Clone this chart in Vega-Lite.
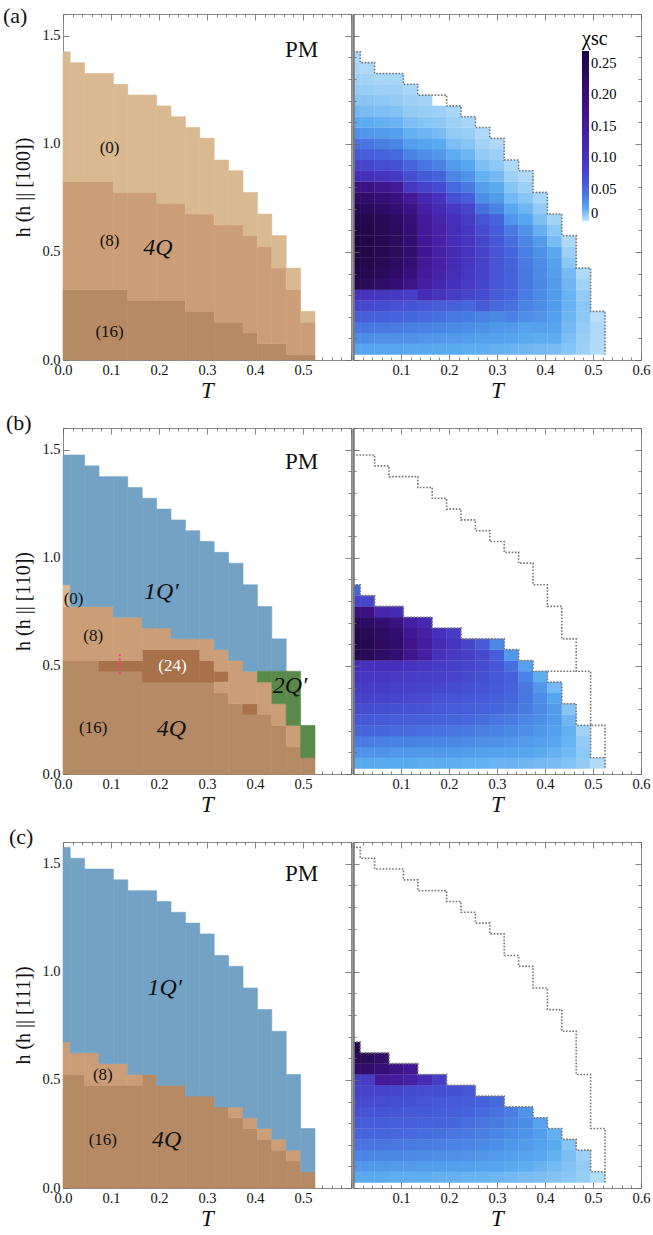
{
"$schema":"https://vega.github.io/schema/vega-lite/v6.json",
"background":"white",
"padding":{"left":2,"top":4,"right":4,"bottom":4},
"config":{"font":"Liberation Serif","view":{"stroke":"#8a8a8a","strokeWidth":1},
"axis":{"labelFont":"Liberation Serif","labelFontSize":14.5,"labelColor":"#111","labelPadding":9,"titleFont":"Liberation Serif","titleColor":"#111","titleFontWeight":"normal","tickColor":"#666","tickWidth":0.8,"grid":false,"zindex":1},
"legend":{"labelFont":"Liberation Serif","titleFont":"Liberation Serif"},
"title":{"font":"Liberation Serif","fontWeight":"normal","color":"#111"}},
"datasets":{
"ra":[
{"T0":0,"T1":0.135,"h0":0,"h1":0.325,"ph":"16"},{"T0":0.135,"T1":0.255,"h0":0,"h1":0.275,"ph":"16"},{"T0":0.255,"T1":0.315,"h0":0,"h1":0.225,"ph":"16"},{"T0":0.315,"T1":0.375,"h0":0,"h1":0.175,"ph":"16"},{"T0":0.375,"T1":0.405,"h0":0,"h1":0.125,"ph":"16"},{"T0":0.405,"T1":0.465,"h0":0,"h1":0.075,"ph":"16"},{"T0":0.465,"T1":0.525,"h0":0,"h1":0.025,"ph":"16"},
{"T0":0,"T1":0.105,"h0":0.325,"h1":0.825,"ph":"8"},{"T0":0.105,"T1":0.135,"h0":0.325,"h1":0.775,"ph":"8"},{"T0":0.135,"T1":0.195,"h0":0.275,"h1":0.775,"ph":"8"},{"T0":0.195,"T1":0.255,"h0":0.275,"h1":0.725,"ph":"8"},{"T0":0.255,"T1":0.315,"h0":0.225,"h1":0.675,"ph":"8"},{"T0":0.315,"T1":0.375,"h0":0.175,"h1":0.625,"ph":"8"},{"T0":0.375,"T1":0.405,"h0":0.125,"h1":0.575,"ph":"8"},{"T0":0.405,"T1":0.435,"h0":0.075,"h1":0.525,"ph":"8"},{"T0":0.435,"T1":0.465,"h0":0.075,"h1":0.425,"ph":"8"},{"T0":0.465,"T1":0.495,"h0":0.025,"h1":0.325,"ph":"8"},{"T0":0.495,"T1":0.525,"h0":0.025,"h1":0.175,"ph":"8"},
{"T0":0,"T1":0.015,"h0":0.825,"h1":1.425,"ph":"0"},{"T0":0.015,"T1":0.045,"h0":0.825,"h1":1.375,"ph":"0"},{"T0":0.045,"T1":0.105,"h0":0.825,"h1":1.325,"ph":"0"},{"T0":0.105,"T1":0.135,"h0":0.775,"h1":1.275,"ph":"0"},{"T0":0.135,"T1":0.195,"h0":0.775,"h1":1.225,"ph":"0"},{"T0":0.195,"T1":0.225,"h0":0.725,"h1":1.175,"ph":"0"},{"T0":0.225,"T1":0.255,"h0":0.725,"h1":1.125,"ph":"0"},{"T0":0.255,"T1":0.285,"h0":0.675,"h1":1.075,"ph":"0"},{"T0":0.285,"T1":0.315,"h0":0.675,"h1":1.025,"ph":"0"},{"T0":0.315,"T1":0.345,"h0":0.625,"h1":0.925,"ph":"0"},{"T0":0.345,"T1":0.375,"h0":0.625,"h1":0.875,"ph":"0"},{"T0":0.375,"T1":0.405,"h0":0.575,"h1":0.775,"ph":"0"},{"T0":0.405,"T1":0.435,"h0":0.525,"h1":0.675,"ph":"0"},{"T0":0.435,"T1":0.465,"h0":0.425,"h1":0.575,"ph":"0"},{"T0":0.465,"T1":0.495,"h0":0.325,"h1":0.425,"ph":"0"},{"T0":0.495,"T1":0.525,"h0":0.175,"h1":0.225,"ph":"0"}],
"rb":[
{"T0":0,"T1":0.075,"h0":0,"h1":0.525,"ph":"16"},{"T0":0.075,"T1":0.165,"h0":0,"h1":0.475,"ph":"16"},{"T0":0.165,"T1":0.315,"h0":0,"h1":0.425,"ph":"16"},{"T0":0.315,"T1":0.345,"h0":0,"h1":0.375,"ph":"16"},{"T0":0.345,"T1":0.375,"h0":0,"h1":0.325,"ph":"16"},{"T0":0.375,"T1":0.435,"h0":0,"h1":0.275,"ph":"16"},{"T0":0.435,"T1":0.465,"h0":0,"h1":0.225,"ph":"16"},{"T0":0.465,"T1":0.495,"h0":0,"h1":0.125,"ph":"16"},{"T0":0.495,"T1":0.525,"h0":0,"h1":0.075,"ph":"16"},
{"T0":0.075,"T1":0.165,"h0":0.475,"h1":0.525,"ph":"24"},{"T0":0.165,"T1":0.285,"h0":0.425,"h1":0.575,"ph":"24"},{"T0":0.285,"T1":0.315,"h0":0.425,"h1":0.525,"ph":"24"},{"T0":0.315,"T1":0.345,"h0":0.425,"h1":0.475,"ph":"24"},{"T0":0.375,"T1":0.405,"h0":0.275,"h1":0.325,"ph":"24"},
{"T0":0,"T1":0.105,"h0":0.525,"h1":0.775,"ph":"8"},{"T0":0.105,"T1":0.165,"h0":0.525,"h1":0.725,"ph":"8"},{"T0":0.165,"T1":0.225,"h0":0.575,"h1":0.675,"ph":"8"},{"T0":0.225,"T1":0.285,"h0":0.575,"h1":0.625,"ph":"8"},{"T0":0.285,"T1":0.315,"h0":0.525,"h1":0.625,"ph":"8"},{"T0":0.315,"T1":0.345,"h0":0.375,"h1":0.425,"ph":"8"},{"T0":0.315,"T1":0.345,"h0":0.475,"h1":0.575,"ph":"8"},{"T0":0.345,"T1":0.375,"h0":0.325,"h1":0.525,"ph":"8"},{"T0":0.375,"T1":0.405,"h0":0.325,"h1":0.475,"ph":"8"},{"T0":0.405,"T1":0.435,"h0":0.275,"h1":0.425,"ph":"8"},{"T0":0.435,"T1":0.465,"h0":0.225,"h1":0.325,"ph":"8"},{"T0":0.465,"T1":0.495,"h0":0.125,"h1":0.225,"ph":"8"},
{"T0":0,"T1":0.015,"h0":0.775,"h1":0.875,"ph":"0"},
{"T0":0,"T1":0.015,"h0":0.875,"h1":1.475,"ph":"1Q"},{"T0":0.015,"T1":0.045,"h0":0.775,"h1":1.475,"ph":"1Q"},{"T0":0.045,"T1":0.075,"h0":0.775,"h1":1.425,"ph":"1Q"},{"T0":0.075,"T1":0.105,"h0":0.775,"h1":1.375,"ph":"1Q"},{"T0":0.105,"T1":0.135,"h0":0.725,"h1":1.375,"ph":"1Q"},{"T0":0.135,"T1":0.165,"h0":0.725,"h1":1.325,"ph":"1Q"},{"T0":0.165,"T1":0.195,"h0":0.675,"h1":1.275,"ph":"1Q"},{"T0":0.195,"T1":0.225,"h0":0.675,"h1":1.225,"ph":"1Q"},{"T0":0.225,"T1":0.255,"h0":0.625,"h1":1.175,"ph":"1Q"},{"T0":0.255,"T1":0.285,"h0":0.625,"h1":1.125,"ph":"1Q"},{"T0":0.285,"T1":0.315,"h0":0.625,"h1":1.075,"ph":"1Q"},{"T0":0.315,"T1":0.345,"h0":0.575,"h1":1.025,"ph":"1Q"},{"T0":0.345,"T1":0.375,"h0":0.525,"h1":0.975,"ph":"1Q"},{"T0":0.375,"T1":0.405,"h0":0.475,"h1":0.875,"ph":"1Q"},{"T0":0.405,"T1":0.435,"h0":0.475,"h1":0.775,"ph":"1Q"},{"T0":0.435,"T1":0.465,"h0":0.475,"h1":0.625,"ph":"1Q"},
{"T0":0.405,"T1":0.435,"h0":0.425,"h1":0.475,"ph":"2Q"},{"T0":0.435,"T1":0.465,"h0":0.325,"h1":0.475,"ph":"2Q"},{"T0":0.465,"T1":0.495,"h0":0.225,"h1":0.475,"ph":"2Q"},{"T0":0.495,"T1":0.525,"h0":0.075,"h1":0.225,"ph":"2Q"}],
"rc":[
{"T0":0,"T1":0.045,"h0":0,"h1":0.525,"ph":"16"},{"T0":0.045,"T1":0.165,"h0":0,"h1":0.475,"ph":"16"},{"T0":0.165,"T1":0.195,"h0":0,"h1":0.525,"ph":"16"},{"T0":0.195,"T1":0.255,"h0":0,"h1":0.475,"ph":"16"},{"T0":0.255,"T1":0.315,"h0":0,"h1":0.425,"ph":"16"},{"T0":0.315,"T1":0.345,"h0":0,"h1":0.375,"ph":"16"},{"T0":0.345,"T1":0.375,"h0":0,"h1":0.325,"ph":"16"},{"T0":0.375,"T1":0.405,"h0":0,"h1":0.275,"ph":"16"},{"T0":0.405,"T1":0.435,"h0":0,"h1":0.225,"ph":"16"},{"T0":0.435,"T1":0.465,"h0":0,"h1":0.175,"ph":"16"},{"T0":0.465,"T1":0.495,"h0":0,"h1":0.125,"ph":"16"},{"T0":0.495,"T1":0.525,"h0":0,"h1":0.075,"ph":"16"},
{"T0":0,"T1":0.015,"h0":0.525,"h1":0.675,"ph":"8"},{"T0":0.015,"T1":0.045,"h0":0.525,"h1":0.625,"ph":"8"},{"T0":0.045,"T1":0.075,"h0":0.475,"h1":0.625,"ph":"8"},{"T0":0.075,"T1":0.135,"h0":0.475,"h1":0.575,"ph":"8"},{"T0":0.135,"T1":0.165,"h0":0.475,"h1":0.525,"ph":"8"},{"T0":0.345,"T1":0.375,"h0":0.325,"h1":0.375,"ph":"8"},{"T0":0.375,"T1":0.405,"h0":0.275,"h1":0.325,"ph":"8"},{"T0":0.405,"T1":0.435,"h0":0.225,"h1":0.275,"ph":"8"},{"T0":0.435,"T1":0.465,"h0":0.175,"h1":0.225,"ph":"8"},{"T0":0.465,"T1":0.495,"h0":0.125,"h1":0.175,"ph":"8"},
{"T0":0,"T1":0.015,"h0":0.675,"h1":1.575,"ph":"1Q"},{"T0":0.015,"T1":0.045,"h0":0.625,"h1":1.525,"ph":"1Q"},{"T0":0.045,"T1":0.075,"h0":0.625,"h1":1.475,"ph":"1Q"},{"T0":0.075,"T1":0.105,"h0":0.575,"h1":1.475,"ph":"1Q"},{"T0":0.105,"T1":0.135,"h0":0.575,"h1":1.425,"ph":"1Q"},{"T0":0.135,"T1":0.165,"h0":0.525,"h1":1.375,"ph":"1Q"},{"T0":0.165,"T1":0.195,"h0":0.525,"h1":1.375,"ph":"1Q"},{"T0":0.195,"T1":0.225,"h0":0.475,"h1":1.325,"ph":"1Q"},{"T0":0.225,"T1":0.255,"h0":0.475,"h1":1.275,"ph":"1Q"},{"T0":0.255,"T1":0.285,"h0":0.425,"h1":1.225,"ph":"1Q"},{"T0":0.285,"T1":0.315,"h0":0.425,"h1":1.175,"ph":"1Q"},{"T0":0.315,"T1":0.345,"h0":0.375,"h1":1.075,"ph":"1Q"},{"T0":0.345,"T1":0.375,"h0":0.375,"h1":1.025,"ph":"1Q"},{"T0":0.375,"T1":0.405,"h0":0.325,"h1":0.925,"ph":"1Q"},{"T0":0.405,"T1":0.435,"h0":0.275,"h1":0.825,"ph":"1Q"},{"T0":0.435,"T1":0.465,"h0":0.225,"h1":0.725,"ph":"1Q"},{"T0":0.465,"T1":0.495,"h0":0.175,"h1":0.525,"ph":"1Q"},{"T0":0.495,"T1":0.525,"h0":0.075,"h1":0.275,"ph":"1Q"}],
"ta":[{"T":0.497,"h":1.435,"lab":"PM","k":"pm"},{"T":0.097,"h":0.98,"lab":"(0)","k":"n"},{"T":0.097,"h":0.552,"lab":"(8)","k":"n"},{"T":0.198,"h":0.517,"lab":"4Q","k":"ph"},{"T":0.097,"h":0.131,"lab":"(16)","k":"n"}],
"tb":[{"T":0.497,"h":1.444,"lab":"PM","k":"pm"},{"T":0.022,"h":0.81,"lab":"(0)","k":"n"},{"T":0.205,"h":0.84,"lab":"1Q′","k":"ph"},{"T":0.063,"h":0.64,"lab":"(8)","k":"n"},{"T":0.228,"h":0.5,"lab":"(24)","k":"n"},{"T":0.473,"h":0.407,"lab":"2Q′","k":"ph"},{"T":0.063,"h":0.214,"lab":"(16)","k":"n"},{"T":0.226,"h":0.21,"lab":"4Q","k":"ph"}],
"tc":[{"T":0.497,"h":1.45,"lab":"PM","k":"pm"},{"T":0.212,"h":0.926,"lab":"1Q′","k":"ph"},{"T":0.083,"h":0.524,"lab":"(8)","k":"n"},{"T":0.083,"h":0.224,"lab":"(16)","k":"n"},{"T":0.216,"h":0.224,"lab":"4Q","k":"ph"}],
"pk":[{"T":0.118,"h0":0.462,"h1":0.556}],
"la":[{"s":"o","T":0,"h":1.425},{"s":"o","T":0.015,"h":1.375},{"s":"o","T":0.045,"h":1.325},{"s":"o","T":0.105,"h":1.275},{"s":"o","T":0.135,"h":1.225},{"s":"o","T":0.195,"h":1.175},{"s":"o","T":0.225,"h":1.125},{"s":"o","T":0.255,"h":1.075},{"s":"o","T":0.285,"h":1.025},{"s":"o","T":0.315,"h":0.925},{"s":"o","T":0.345,"h":0.875},{"s":"o","T":0.375,"h":0.775},{"s":"o","T":0.405,"h":0.675},{"s":"o","T":0.435,"h":0.575},{"s":"o","T":0.465,"h":0.425},{"s":"o","T":0.495,"h":0.225},{"s":"o","T":0.525,"h":0.025}],
"lb":[{"s":"o","T":0,"h":1.475},{"s":"o","T":0.045,"h":1.425},{"s":"o","T":0.075,"h":1.375},{"s":"o","T":0.135,"h":1.325},{"s":"o","T":0.165,"h":1.275},{"s":"o","T":0.195,"h":1.225},{"s":"o","T":0.225,"h":1.175},{"s":"o","T":0.255,"h":1.125},{"s":"o","T":0.285,"h":1.075},{"s":"o","T":0.315,"h":1.025},{"s":"o","T":0.345,"h":0.975},{"s":"o","T":0.375,"h":0.875},{"s":"o","T":0.405,"h":0.775},{"s":"o","T":0.435,"h":0.625},{"s":"o","T":0.465,"h":0.475},{"s":"o","T":0.495,"h":0.225},{"s":"o","T":0.525,"h":0.025},
{"s":"i","T":0,"h":0.875},{"s":"i","T":0.015,"h":0.825},{"s":"i","T":0.045,"h":0.775},{"s":"i","T":0.105,"h":0.725},{"s":"i","T":0.165,"h":0.675},{"s":"i","T":0.225,"h":0.625},{"s":"i","T":0.315,"h":0.575},{"s":"i","T":0.345,"h":0.525},{"s":"i","T":0.375,"h":0.475},{"s":"i","T":0.405,"h":0.425},{"s":"i","T":0.435,"h":0.325},{"s":"i","T":0.465,"h":0.225},{"s":"i","T":0.495,"h":0.075},{"s":"i","T":0.525,"h":0.075},
{"s":"x","T":0.405,"h":0.475},{"s":"x","T":0.465,"h":0.475}],
"lc":[{"s":"o","T":0,"h":1.575},{"s":"o","T":0.015,"h":1.525},{"s":"o","T":0.045,"h":1.475},{"s":"o","T":0.105,"h":1.425},{"s":"o","T":0.135,"h":1.375},{"s":"o","T":0.195,"h":1.325},{"s":"o","T":0.225,"h":1.275},{"s":"o","T":0.255,"h":1.225},{"s":"o","T":0.285,"h":1.175},{"s":"o","T":0.315,"h":1.075},{"s":"o","T":0.345,"h":1.025},{"s":"o","T":0.375,"h":0.925},{"s":"o","T":0.405,"h":0.825},{"s":"o","T":0.435,"h":0.725},{"s":"o","T":0.465,"h":0.525},{"s":"o","T":0.495,"h":0.275},{"s":"o","T":0.525,"h":0.025},
{"s":"i","T":0,"h":0.675},{"s":"i","T":0.015,"h":0.625},{"s":"i","T":0.075,"h":0.575},{"s":"i","T":0.135,"h":0.525},{"s":"i","T":0.195,"h":0.475},{"s":"i","T":0.255,"h":0.425},{"s":"i","T":0.315,"h":0.375},{"s":"i","T":0.375,"h":0.325},{"s":"i","T":0.405,"h":0.275},{"s":"i","T":0.435,"h":0.225},{"s":"i","T":0.465,"h":0.175},{"s":"i","T":0.495,"h":0.075},{"s":"i","T":0.525,"h":0.075}],
"ha":[
{"T":0,"h":0.05,"v":0.022},{"T":0,"h":0.1,"v":0.032},{"T":0,"h":0.15,"v":0.042},{"T":0,"h":0.2,"v":0.055},{"T":0,"h":0.25,"v":0.075},{"T":0,"h":0.3,"v":0.1},{"T":0,"h":0.35,"v":0.24},{"T":0,"h":0.4,"v":0.252},{"T":0,"h":0.45,"v":0.26},{"T":0,"h":0.5,"v":0.265},{"T":0,"h":0.55,"v":0.265},{"T":0,"h":0.6,"v":0.262},{"T":0,"h":0.65,"v":0.255},{"T":0,"h":0.7,"v":0.245},{"T":0,"h":0.75,"v":0.222},{"T":0,"h":0.8,"v":0.19},{"T":0,"h":0.85,"v":0.11},{"T":0,"h":0.9,"v":0.08},{"T":0,"h":0.95,"v":0.058},{"T":0,"h":1,"v":0.044},{"T":0,"h":1.05,"v":0.03},{"T":0,"h":1.1,"v":0.02},{"T":0,"h":1.15,"v":0.015},{"T":0,"h":1.2,"v":0.011},{"T":0,"h":1.25,"v":0.009},{"T":0,"h":1.3,"v":0.007},{"T":0,"h":1.35,"v":0.005},{"T":0,"h":1.4,"v":0.004},
{"T":0.03,"h":0.05,"v":0.022},{"T":0.03,"h":0.1,"v":0.032},{"T":0.03,"h":0.15,"v":0.042},{"T":0.03,"h":0.2,"v":0.054},{"T":0.03,"h":0.25,"v":0.073},{"T":0.03,"h":0.3,"v":0.098},{"T":0.03,"h":0.35,"v":0.235},{"T":0.03,"h":0.4,"v":0.248},{"T":0.03,"h":0.45,"v":0.256},{"T":0.03,"h":0.5,"v":0.26},{"T":0.03,"h":0.55,"v":0.26},{"T":0.03,"h":0.6,"v":0.258},{"T":0.03,"h":0.65,"v":0.25},{"T":0.03,"h":0.7,"v":0.238},{"T":0.03,"h":0.75,"v":0.215},{"T":0.03,"h":0.8,"v":0.182},{"T":0.03,"h":0.85,"v":0.105},{"T":0.03,"h":0.9,"v":0.076},{"T":0.03,"h":0.95,"v":0.055},{"T":0.03,"h":1,"v":0.042},{"T":0.03,"h":1.05,"v":0.029},{"T":0.03,"h":1.1,"v":0.019},{"T":0.03,"h":1.15,"v":0.014},{"T":0.03,"h":1.2,"v":0.011},{"T":0.03,"h":1.25,"v":0.008},{"T":0.03,"h":1.3,"v":0.006},{"T":0.03,"h":1.35,"v":0.004},
{"T":0.06,"h":0.05,"v":0.022},{"T":0.06,"h":0.1,"v":0.031},{"T":0.06,"h":0.15,"v":0.041},{"T":0.06,"h":0.2,"v":0.053},{"T":0.06,"h":0.25,"v":0.07},{"T":0.06,"h":0.3,"v":0.094},{"T":0.06,"h":0.35,"v":0.222},{"T":0.06,"h":0.4,"v":0.236},{"T":0.06,"h":0.45,"v":0.245},{"T":0.06,"h":0.5,"v":0.25},{"T":0.06,"h":0.55,"v":0.25},{"T":0.06,"h":0.6,"v":0.247},{"T":0.06,"h":0.65,"v":0.24},{"T":0.06,"h":0.7,"v":0.226},{"T":0.06,"h":0.75,"v":0.203},{"T":0.06,"h":0.8,"v":0.17},{"T":0.06,"h":0.85,"v":0.098},{"T":0.06,"h":0.9,"v":0.07},{"T":0.06,"h":0.95,"v":0.051},{"T":0.06,"h":1,"v":0.039},{"T":0.06,"h":1.05,"v":0.027},{"T":0.06,"h":1.1,"v":0.018},{"T":0.06,"h":1.15,"v":0.013},{"T":0.06,"h":1.2,"v":0.01},{"T":0.06,"h":1.25,"v":0.007},{"T":0.06,"h":1.3,"v":0.005},
{"T":0.09,"h":0.05,"v":0.022},{"T":0.09,"h":0.1,"v":0.031},{"T":0.09,"h":0.15,"v":0.04},{"T":0.09,"h":0.2,"v":0.051},{"T":0.09,"h":0.25,"v":0.067},{"T":0.09,"h":0.3,"v":0.09},{"T":0.09,"h":0.35,"v":0.205},{"T":0.09,"h":0.4,"v":0.22},{"T":0.09,"h":0.45,"v":0.23},{"T":0.09,"h":0.5,"v":0.235},{"T":0.09,"h":0.55,"v":0.235},{"T":0.09,"h":0.6,"v":0.232},{"T":0.09,"h":0.65,"v":0.224},{"T":0.09,"h":0.7,"v":0.21},{"T":0.09,"h":0.75,"v":0.188},{"T":0.09,"h":0.8,"v":0.155},{"T":0.09,"h":0.85,"v":0.09},{"T":0.09,"h":0.9,"v":0.065},{"T":0.09,"h":0.95,"v":0.048},{"T":0.09,"h":1,"v":0.036},{"T":0.09,"h":1.05,"v":0.025},{"T":0.09,"h":1.1,"v":0.017},{"T":0.09,"h":1.15,"v":0.012},{"T":0.09,"h":1.2,"v":0.009},{"T":0.09,"h":1.25,"v":0.007},{"T":0.09,"h":1.3,"v":0.005},
{"T":0.12,"h":0.05,"v":0.021},{"T":0.12,"h":0.1,"v":0.03},{"T":0.12,"h":0.15,"v":0.039},{"T":0.12,"h":0.2,"v":0.049},{"T":0.12,"h":0.25,"v":0.064},{"T":0.12,"h":0.3,"v":0.085},{"T":0.12,"h":0.35,"v":0.18},{"T":0.12,"h":0.4,"v":0.195},{"T":0.12,"h":0.45,"v":0.205},{"T":0.12,"h":0.5,"v":0.21},{"T":0.12,"h":0.55,"v":0.21},{"T":0.12,"h":0.6,"v":0.206},{"T":0.12,"h":0.65,"v":0.198},{"T":0.12,"h":0.7,"v":0.182},{"T":0.12,"h":0.75,"v":0.155},{"T":0.12,"h":0.8,"v":0.095},{"T":0.12,"h":0.85,"v":0.068},{"T":0.12,"h":0.9,"v":0.05},{"T":0.12,"h":0.95,"v":0.037},{"T":0.12,"h":1,"v":0.026},{"T":0.12,"h":1.05,"v":0.018},{"T":0.12,"h":1.1,"v":0.013},{"T":0.12,"h":1.15,"v":0.009},{"T":0.12,"h":1.2,"v":0.007},{"T":0.12,"h":1.25,"v":0.005},
{"T":0.15,"h":0.05,"v":0.021},{"T":0.15,"h":0.1,"v":0.029},{"T":0.15,"h":0.15,"v":0.037},{"T":0.15,"h":0.2,"v":0.047},{"T":0.15,"h":0.25,"v":0.06},{"T":0.15,"h":0.3,"v":0.11},{"T":0.15,"h":0.35,"v":0.14},{"T":0.15,"h":0.4,"v":0.152},{"T":0.15,"h":0.45,"v":0.158},{"T":0.15,"h":0.5,"v":0.16},{"T":0.15,"h":0.55,"v":0.16},{"T":0.15,"h":0.6,"v":0.157},{"T":0.15,"h":0.65,"v":0.15},{"T":0.15,"h":0.7,"v":0.138},{"T":0.15,"h":0.75,"v":0.118},{"T":0.15,"h":0.8,"v":0.08},{"T":0.15,"h":0.85,"v":0.058},{"T":0.15,"h":0.9,"v":0.043},{"T":0.15,"h":0.95,"v":0.032},{"T":0.15,"h":1,"v":0.023},{"T":0.15,"h":1.05,"v":0.016},{"T":0.15,"h":1.1,"v":0.011},{"T":0.15,"h":1.15,"v":0.008},{"T":0.15,"h":1.2,"v":0.006},
{"T":0.18,"h":0.05,"v":0.02},{"T":0.18,"h":0.1,"v":0.028},{"T":0.18,"h":0.15,"v":0.036},{"T":0.18,"h":0.2,"v":0.045},{"T":0.18,"h":0.25,"v":0.057},{"T":0.18,"h":0.3,"v":0.098},{"T":0.18,"h":0.35,"v":0.12},{"T":0.18,"h":0.4,"v":0.13},{"T":0.18,"h":0.45,"v":0.134},{"T":0.18,"h":0.5,"v":0.136},{"T":0.18,"h":0.55,"v":0.136},{"T":0.18,"h":0.6,"v":0.133},{"T":0.18,"h":0.65,"v":0.127},{"T":0.18,"h":0.7,"v":0.117},{"T":0.18,"h":0.75,"v":0.1},{"T":0.18,"h":0.8,"v":0.07},{"T":0.18,"h":0.85,"v":0.051},{"T":0.18,"h":0.9,"v":0.038},{"T":0.18,"h":0.95,"v":0.028},{"T":0.18,"h":1,"v":0.02},{"T":0.18,"h":1.05,"v":0.014},{"T":0.18,"h":1.1,"v":0.01},{"T":0.18,"h":1.15,"v":0.007},
{"T":0.21,"h":0.05,"v":0.02},{"T":0.21,"h":0.1,"v":0.027},{"T":0.21,"h":0.15,"v":0.034},{"T":0.21,"h":0.2,"v":0.042},{"T":0.21,"h":0.25,"v":0.053},{"T":0.21,"h":0.3,"v":0.088},{"T":0.21,"h":0.35,"v":0.103},{"T":0.21,"h":0.4,"v":0.111},{"T":0.21,"h":0.45,"v":0.115},{"T":0.21,"h":0.5,"v":0.116},{"T":0.21,"h":0.55,"v":0.115},{"T":0.21,"h":0.6,"v":0.111},{"T":0.21,"h":0.65,"v":0.104},{"T":0.21,"h":0.7,"v":0.092},{"T":0.21,"h":0.75,"v":0.066},{"T":0.21,"h":0.8,"v":0.048},{"T":0.21,"h":0.85,"v":0.036},{"T":0.21,"h":0.9,"v":0.027},{"T":0.21,"h":0.95,"v":0.019},{"T":0.21,"h":1,"v":0.013},{"T":0.21,"h":1.05,"v":0.009},{"T":0.21,"h":1.1,"v":0.007},{"T":0.21,"h":1.15,"v":0.005},
{"T":0.24,"h":0.05,"v":0.019},{"T":0.24,"h":0.1,"v":0.026},{"T":0.24,"h":0.15,"v":0.032},{"T":0.24,"h":0.2,"v":0.04},{"T":0.24,"h":0.25,"v":0.049},{"T":0.24,"h":0.3,"v":0.075},{"T":0.24,"h":0.35,"v":0.087},{"T":0.24,"h":0.4,"v":0.093},{"T":0.24,"h":0.45,"v":0.096},{"T":0.24,"h":0.5,"v":0.097},{"T":0.24,"h":0.55,"v":0.096},{"T":0.24,"h":0.6,"v":0.092},{"T":0.24,"h":0.65,"v":0.086},{"T":0.24,"h":0.7,"v":0.076},{"T":0.24,"h":0.75,"v":0.055},{"T":0.24,"h":0.8,"v":0.04},{"T":0.24,"h":0.85,"v":0.03},{"T":0.24,"h":0.9,"v":0.022},{"T":0.24,"h":0.95,"v":0.016},{"T":0.24,"h":1,"v":0.011},{"T":0.24,"h":1.05,"v":0.008},{"T":0.24,"h":1.1,"v":0.005},
{"T":0.27,"h":0.05,"v":0.019},{"T":0.27,"h":0.1,"v":0.025},{"T":0.27,"h":0.15,"v":0.031},{"T":0.27,"h":0.2,"v":0.038},{"T":0.27,"h":0.25,"v":0.058},{"T":0.27,"h":0.3,"v":0.07},{"T":0.27,"h":0.35,"v":0.076},{"T":0.27,"h":0.4,"v":0.079},{"T":0.27,"h":0.45,"v":0.08},{"T":0.27,"h":0.5,"v":0.079},{"T":0.27,"h":0.55,"v":0.076},{"T":0.27,"h":0.6,"v":0.071},{"T":0.27,"h":0.65,"v":0.063},{"T":0.27,"h":0.7,"v":0.045},{"T":0.27,"h":0.75,"v":0.033},{"T":0.27,"h":0.8,"v":0.025},{"T":0.27,"h":0.85,"v":0.018},{"T":0.27,"h":0.9,"v":0.013},{"T":0.27,"h":0.95,"v":0.009},{"T":0.27,"h":1,"v":0.006},{"T":0.27,"h":1.05,"v":0.004},
{"T":0.3,"h":0.05,"v":0.018},{"T":0.3,"h":0.1,"v":0.024},{"T":0.3,"h":0.15,"v":0.029},{"T":0.3,"h":0.2,"v":0.035},{"T":0.3,"h":0.25,"v":0.048},{"T":0.3,"h":0.3,"v":0.056},{"T":0.3,"h":0.35,"v":0.061},{"T":0.3,"h":0.4,"v":0.063},{"T":0.3,"h":0.45,"v":0.064},{"T":0.3,"h":0.5,"v":0.063},{"T":0.3,"h":0.55,"v":0.061},{"T":0.3,"h":0.6,"v":0.057},{"T":0.3,"h":0.65,"v":0.051},{"T":0.3,"h":0.7,"v":0.037},{"T":0.3,"h":0.75,"v":0.027},{"T":0.3,"h":0.8,"v":0.02},{"T":0.3,"h":0.85,"v":0.015},{"T":0.3,"h":0.9,"v":0.01},{"T":0.3,"h":0.95,"v":0.007},{"T":0.3,"h":1,"v":0.004},
{"T":0.33,"h":0.05,"v":0.017},{"T":0.33,"h":0.1,"v":0.022},{"T":0.33,"h":0.15,"v":0.027},{"T":0.33,"h":0.2,"v":0.038},{"T":0.33,"h":0.25,"v":0.045},{"T":0.33,"h":0.3,"v":0.049},{"T":0.33,"h":0.35,"v":0.051},{"T":0.33,"h":0.4,"v":0.052},{"T":0.33,"h":0.45,"v":0.051},{"T":0.33,"h":0.5,"v":0.049},{"T":0.33,"h":0.55,"v":0.046},{"T":0.33,"h":0.6,"v":0.041},{"T":0.33,"h":0.65,"v":0.029},{"T":0.33,"h":0.7,"v":0.021},{"T":0.33,"h":0.75,"v":0.015},{"T":0.33,"h":0.8,"v":0.011},{"T":0.33,"h":0.85,"v":0.007},{"T":0.33,"h":0.9,"v":0.004},
{"T":0.36,"h":0.05,"v":0.016},{"T":0.36,"h":0.1,"v":0.02},{"T":0.36,"h":0.15,"v":0.024},{"T":0.36,"h":0.2,"v":0.032},{"T":0.36,"h":0.25,"v":0.037},{"T":0.36,"h":0.3,"v":0.04},{"T":0.36,"h":0.35,"v":0.042},{"T":0.36,"h":0.4,"v":0.042},{"T":0.36,"h":0.45,"v":0.041},{"T":0.36,"h":0.5,"v":0.039},{"T":0.36,"h":0.55,"v":0.036},{"T":0.36,"h":0.6,"v":0.03},{"T":0.36,"h":0.65,"v":0.022},{"T":0.36,"h":0.7,"v":0.016},{"T":0.36,"h":0.75,"v":0.011},{"T":0.36,"h":0.8,"v":0.007},{"T":0.36,"h":0.85,"v":0.004},
{"T":0.39,"h":0.05,"v":0.015},{"T":0.39,"h":0.1,"v":0.019},{"T":0.39,"h":0.15,"v":0.025},{"T":0.39,"h":0.2,"v":0.03},{"T":0.39,"h":0.25,"v":0.033},{"T":0.39,"h":0.3,"v":0.034},{"T":0.39,"h":0.35,"v":0.035},{"T":0.39,"h":0.4,"v":0.034},{"T":0.39,"h":0.45,"v":0.033},{"T":0.39,"h":0.5,"v":0.031},{"T":0.39,"h":0.55,"v":0.027},{"T":0.39,"h":0.6,"v":0.018},{"T":0.39,"h":0.65,"v":0.013},{"T":0.39,"h":0.7,"v":0.009},{"T":0.39,"h":0.75,"v":0.005},
{"T":0.42,"h":0.05,"v":0.014},{"T":0.42,"h":0.1,"v":0.019},{"T":0.42,"h":0.15,"v":0.023},{"T":0.42,"h":0.2,"v":0.025},{"T":0.42,"h":0.25,"v":0.027},{"T":0.42,"h":0.3,"v":0.027},{"T":0.42,"h":0.35,"v":0.027},{"T":0.42,"h":0.4,"v":0.026},{"T":0.42,"h":0.45,"v":0.024},{"T":0.42,"h":0.5,"v":0.021},{"T":0.42,"h":0.55,"v":0.014},{"T":0.42,"h":0.6,"v":0.01},{"T":0.42,"h":0.65,"v":0.006},
{"T":0.45,"h":0.05,"v":0.011},{"T":0.45,"h":0.1,"v":0.013},{"T":0.45,"h":0.15,"v":0.015},{"T":0.45,"h":0.2,"v":0.016},{"T":0.45,"h":0.25,"v":0.017},{"T":0.45,"h":0.3,"v":0.017},{"T":0.45,"h":0.35,"v":0.016},{"T":0.45,"h":0.4,"v":0.015},{"T":0.45,"h":0.45,"v":0.01},{"T":0.45,"h":0.5,"v":0.007},{"T":0.45,"h":0.55,"v":0.004},
{"T":0.48,"h":0.05,"v":0.007},{"T":0.48,"h":0.1,"v":0.008},{"T":0.48,"h":0.15,"v":0.009},{"T":0.48,"h":0.2,"v":0.01},{"T":0.48,"h":0.25,"v":0.01},{"T":0.48,"h":0.3,"v":0.009},{"T":0.48,"h":0.35,"v":0.006},{"T":0.48,"h":0.4,"v":0.004},
{"T":0.51,"h":0.05,"v":0.003},{"T":0.51,"h":0.1,"v":0.004},{"T":0.51,"h":0.15,"v":0.004},{"T":0.51,"h":0.2,"v":0.002}],
"hb":[
{"T":0,"h":0.05,"v":0.02},{"T":0,"h":0.1,"v":0.03},{"T":0,"h":0.15,"v":0.04},{"T":0,"h":0.2,"v":0.05},{"T":0,"h":0.25,"v":0.06},{"T":0,"h":0.3,"v":0.07},{"T":0,"h":0.35,"v":0.08},{"T":0,"h":0.4,"v":0.088},{"T":0,"h":0.45,"v":0.096},{"T":0,"h":0.5,"v":0.108},{"T":0,"h":0.55,"v":0.25},{"T":0,"h":0.6,"v":0.255},{"T":0,"h":0.65,"v":0.25},{"T":0,"h":0.7,"v":0.235},{"T":0,"h":0.75,"v":0.195},{"T":0,"h":0.8,"v":0.08},{"T":0,"h":0.85,"v":0.05},
{"T":0.03,"h":0.05,"v":0.02},{"T":0.03,"h":0.1,"v":0.03},{"T":0.03,"h":0.15,"v":0.04},{"T":0.03,"h":0.2,"v":0.05},{"T":0.03,"h":0.25,"v":0.06},{"T":0.03,"h":0.3,"v":0.069},{"T":0.03,"h":0.35,"v":0.079},{"T":0.03,"h":0.4,"v":0.087},{"T":0.03,"h":0.45,"v":0.095},{"T":0.03,"h":0.5,"v":0.106},{"T":0.03,"h":0.55,"v":0.245},{"T":0.03,"h":0.6,"v":0.25},{"T":0.03,"h":0.65,"v":0.245},{"T":0.03,"h":0.7,"v":0.228},{"T":0.03,"h":0.75,"v":0.185},{"T":0.03,"h":0.8,"v":0.075},
{"T":0.06,"h":0.05,"v":0.02},{"T":0.06,"h":0.1,"v":0.03},{"T":0.06,"h":0.15,"v":0.039},{"T":0.06,"h":0.2,"v":0.049},{"T":0.06,"h":0.25,"v":0.059},{"T":0.06,"h":0.3,"v":0.068},{"T":0.06,"h":0.35,"v":0.078},{"T":0.06,"h":0.4,"v":0.086},{"T":0.06,"h":0.45,"v":0.094},{"T":0.06,"h":0.5,"v":0.104},{"T":0.06,"h":0.55,"v":0.225},{"T":0.06,"h":0.6,"v":0.232},{"T":0.06,"h":0.65,"v":0.225},{"T":0.06,"h":0.7,"v":0.205},{"T":0.06,"h":0.75,"v":0.125},
{"T":0.09,"h":0.05,"v":0.02},{"T":0.09,"h":0.1,"v":0.029},{"T":0.09,"h":0.15,"v":0.038},{"T":0.09,"h":0.2,"v":0.048},{"T":0.09,"h":0.25,"v":0.057},{"T":0.09,"h":0.3,"v":0.066},{"T":0.09,"h":0.35,"v":0.075},{"T":0.09,"h":0.4,"v":0.083},{"T":0.09,"h":0.45,"v":0.09},{"T":0.09,"h":0.5,"v":0.105},{"T":0.09,"h":0.55,"v":0.21},{"T":0.09,"h":0.6,"v":0.218},{"T":0.09,"h":0.65,"v":0.21},{"T":0.09,"h":0.7,"v":0.19},{"T":0.09,"h":0.75,"v":0.115},
{"T":0.12,"h":0.05,"v":0.02},{"T":0.12,"h":0.1,"v":0.029},{"T":0.12,"h":0.15,"v":0.038},{"T":0.12,"h":0.2,"v":0.047},{"T":0.12,"h":0.25,"v":0.056},{"T":0.12,"h":0.3,"v":0.065},{"T":0.12,"h":0.35,"v":0.073},{"T":0.12,"h":0.4,"v":0.081},{"T":0.12,"h":0.45,"v":0.088},{"T":0.12,"h":0.5,"v":0.1},{"T":0.12,"h":0.55,"v":0.17},{"T":0.12,"h":0.6,"v":0.175},{"T":0.12,"h":0.65,"v":0.165},{"T":0.12,"h":0.7,"v":0.14},
{"T":0.15,"h":0.05,"v":0.019},{"T":0.15,"h":0.1,"v":0.028},{"T":0.15,"h":0.15,"v":0.037},{"T":0.15,"h":0.2,"v":0.046},{"T":0.15,"h":0.25,"v":0.055},{"T":0.15,"h":0.3,"v":0.063},{"T":0.15,"h":0.35,"v":0.071},{"T":0.15,"h":0.4,"v":0.078},{"T":0.15,"h":0.45,"v":0.085},{"T":0.15,"h":0.5,"v":0.095},{"T":0.15,"h":0.55,"v":0.14},{"T":0.15,"h":0.6,"v":0.145},{"T":0.15,"h":0.65,"v":0.138},{"T":0.15,"h":0.7,"v":0.118},
{"T":0.18,"h":0.05,"v":0.019},{"T":0.18,"h":0.1,"v":0.028},{"T":0.18,"h":0.15,"v":0.036},{"T":0.18,"h":0.2,"v":0.044},{"T":0.18,"h":0.25,"v":0.052},{"T":0.18,"h":0.3,"v":0.06},{"T":0.18,"h":0.35,"v":0.067},{"T":0.18,"h":0.4,"v":0.074},{"T":0.18,"h":0.45,"v":0.082},{"T":0.18,"h":0.5,"v":0.088},{"T":0.18,"h":0.55,"v":0.105},{"T":0.18,"h":0.6,"v":0.115},{"T":0.18,"h":0.65,"v":0.105},
{"T":0.21,"h":0.05,"v":0.019},{"T":0.21,"h":0.1,"v":0.027},{"T":0.21,"h":0.15,"v":0.035},{"T":0.21,"h":0.2,"v":0.043},{"T":0.21,"h":0.25,"v":0.05},{"T":0.21,"h":0.3,"v":0.057},{"T":0.21,"h":0.35,"v":0.064},{"T":0.21,"h":0.4,"v":0.07},{"T":0.21,"h":0.45,"v":0.077},{"T":0.21,"h":0.5,"v":0.082},{"T":0.21,"h":0.55,"v":0.092},{"T":0.21,"h":0.6,"v":0.098},{"T":0.21,"h":0.65,"v":0.088},
{"T":0.24,"h":0.05,"v":0.018},{"T":0.24,"h":0.1,"v":0.026},{"T":0.24,"h":0.15,"v":0.034},{"T":0.24,"h":0.2,"v":0.041},{"T":0.24,"h":0.25,"v":0.048},{"T":0.24,"h":0.3,"v":0.055},{"T":0.24,"h":0.35,"v":0.061},{"T":0.24,"h":0.4,"v":0.067},{"T":0.24,"h":0.45,"v":0.072},{"T":0.24,"h":0.5,"v":0.076},{"T":0.24,"h":0.55,"v":0.082},{"T":0.24,"h":0.6,"v":0.075},
{"T":0.27,"h":0.05,"v":0.018},{"T":0.27,"h":0.1,"v":0.025},{"T":0.27,"h":0.15,"v":0.032},{"T":0.27,"h":0.2,"v":0.039},{"T":0.27,"h":0.25,"v":0.046},{"T":0.27,"h":0.3,"v":0.052},{"T":0.27,"h":0.35,"v":0.058},{"T":0.27,"h":0.4,"v":0.063},{"T":0.27,"h":0.45,"v":0.067},{"T":0.27,"h":0.5,"v":0.07},{"T":0.27,"h":0.55,"v":0.072},{"T":0.27,"h":0.6,"v":0.058},
{"T":0.3,"h":0.05,"v":0.017},{"T":0.3,"h":0.1,"v":0.024},{"T":0.3,"h":0.15,"v":0.031},{"T":0.3,"h":0.2,"v":0.037},{"T":0.3,"h":0.25,"v":0.043},{"T":0.3,"h":0.3,"v":0.049},{"T":0.3,"h":0.35,"v":0.054},{"T":0.3,"h":0.4,"v":0.058},{"T":0.3,"h":0.45,"v":0.061},{"T":0.3,"h":0.5,"v":0.062},{"T":0.3,"h":0.55,"v":0.055},{"T":0.3,"h":0.6,"v":0.035},
{"T":0.33,"h":0.05,"v":0.017},{"T":0.33,"h":0.1,"v":0.023},{"T":0.33,"h":0.15,"v":0.029},{"T":0.33,"h":0.2,"v":0.035},{"T":0.33,"h":0.25,"v":0.04},{"T":0.33,"h":0.3,"v":0.045},{"T":0.33,"h":0.35,"v":0.049},{"T":0.33,"h":0.4,"v":0.051},{"T":0.33,"h":0.45,"v":0.053},{"T":0.33,"h":0.5,"v":0.045},{"T":0.33,"h":0.55,"v":0.028},
{"T":0.36,"h":0.05,"v":0.016},{"T":0.36,"h":0.1,"v":0.022},{"T":0.36,"h":0.15,"v":0.027},{"T":0.36,"h":0.2,"v":0.032},{"T":0.36,"h":0.25,"v":0.036},{"T":0.36,"h":0.3,"v":0.04},{"T":0.36,"h":0.35,"v":0.042},{"T":0.36,"h":0.4,"v":0.042},{"T":0.36,"h":0.45,"v":0.037},{"T":0.36,"h":0.5,"v":0.024},
{"T":0.39,"h":0.05,"v":0.015},{"T":0.39,"h":0.1,"v":0.02},{"T":0.39,"h":0.15,"v":0.025},{"T":0.39,"h":0.2,"v":0.029},{"T":0.39,"h":0.25,"v":0.032},{"T":0.39,"h":0.3,"v":0.034},{"T":0.39,"h":0.35,"v":0.033},{"T":0.39,"h":0.4,"v":0.028},{"T":0.39,"h":0.45,"v":0.019},
{"T":0.42,"h":0.05,"v":0.014},{"T":0.42,"h":0.1,"v":0.018},{"T":0.42,"h":0.15,"v":0.022},{"T":0.42,"h":0.2,"v":0.025},{"T":0.42,"h":0.25,"v":0.027},{"T":0.42,"h":0.3,"v":0.027},{"T":0.42,"h":0.35,"v":0.022},{"T":0.42,"h":0.4,"v":0.015},
{"T":0.45,"h":0.05,"v":0.012},{"T":0.45,"h":0.1,"v":0.015},{"T":0.45,"h":0.15,"v":0.017},{"T":0.45,"h":0.2,"v":0.018},{"T":0.45,"h":0.25,"v":0.016},{"T":0.45,"h":0.3,"v":0.011},
{"T":0.48,"h":0.05,"v":0.009},{"T":0.48,"h":0.1,"v":0.01},{"T":0.48,"h":0.15,"v":0.009},{"T":0.48,"h":0.2,"v":0.006},
{"T":0.51,"h":0.05,"v":0.003}],
"hc":[
{"T":0,"h":0.05,"v":0.02},{"T":0,"h":0.1,"v":0.028},{"T":0,"h":0.15,"v":0.036},{"T":0,"h":0.2,"v":0.044},{"T":0,"h":0.25,"v":0.051},{"T":0,"h":0.3,"v":0.058},{"T":0,"h":0.35,"v":0.065},{"T":0,"h":0.4,"v":0.072},{"T":0,"h":0.45,"v":0.08},{"T":0,"h":0.5,"v":0.088},{"T":0,"h":0.55,"v":0.215},{"T":0,"h":0.6,"v":0.235},{"T":0,"h":0.65,"v":0.255},
{"T":0.03,"h":0.05,"v":0.02},{"T":0.03,"h":0.1,"v":0.028},{"T":0.03,"h":0.15,"v":0.036},{"T":0.03,"h":0.2,"v":0.043},{"T":0.03,"h":0.25,"v":0.05},{"T":0.03,"h":0.3,"v":0.057},{"T":0.03,"h":0.35,"v":0.064},{"T":0.03,"h":0.4,"v":0.071},{"T":0.03,"h":0.45,"v":0.078},{"T":0.03,"h":0.5,"v":0.086},{"T":0.03,"h":0.55,"v":0.215},{"T":0.03,"h":0.6,"v":0.235},
{"T":0.06,"h":0.05,"v":0.02},{"T":0.06,"h":0.1,"v":0.028},{"T":0.06,"h":0.15,"v":0.035},{"T":0.06,"h":0.2,"v":0.043},{"T":0.06,"h":0.25,"v":0.05},{"T":0.06,"h":0.3,"v":0.056},{"T":0.06,"h":0.35,"v":0.063},{"T":0.06,"h":0.4,"v":0.07},{"T":0.06,"h":0.45,"v":0.077},{"T":0.06,"h":0.5,"v":0.15},{"T":0.06,"h":0.55,"v":0.2},{"T":0.06,"h":0.6,"v":0.215},
{"T":0.09,"h":0.05,"v":0.019},{"T":0.09,"h":0.1,"v":0.027},{"T":0.09,"h":0.15,"v":0.035},{"T":0.09,"h":0.2,"v":0.042},{"T":0.09,"h":0.25,"v":0.049},{"T":0.09,"h":0.3,"v":0.055},{"T":0.09,"h":0.35,"v":0.062},{"T":0.09,"h":0.4,"v":0.068},{"T":0.09,"h":0.45,"v":0.075},{"T":0.09,"h":0.5,"v":0.145},{"T":0.09,"h":0.55,"v":0.18},
{"T":0.12,"h":0.05,"v":0.019},{"T":0.12,"h":0.1,"v":0.027},{"T":0.12,"h":0.15,"v":0.034},{"T":0.12,"h":0.2,"v":0.041},{"T":0.12,"h":0.25,"v":0.048},{"T":0.12,"h":0.3,"v":0.054},{"T":0.12,"h":0.35,"v":0.06},{"T":0.12,"h":0.4,"v":0.066},{"T":0.12,"h":0.45,"v":0.072},{"T":0.12,"h":0.5,"v":0.135},{"T":0.12,"h":0.55,"v":0.165},
{"T":0.15,"h":0.05,"v":0.019},{"T":0.15,"h":0.1,"v":0.026},{"T":0.15,"h":0.15,"v":0.033},{"T":0.15,"h":0.2,"v":0.04},{"T":0.15,"h":0.25,"v":0.046},{"T":0.15,"h":0.3,"v":0.052},{"T":0.15,"h":0.35,"v":0.058},{"T":0.15,"h":0.4,"v":0.064},{"T":0.15,"h":0.45,"v":0.07},{"T":0.15,"h":0.5,"v":0.115},
{"T":0.18,"h":0.05,"v":0.018},{"T":0.18,"h":0.1,"v":0.026},{"T":0.18,"h":0.15,"v":0.032},{"T":0.18,"h":0.2,"v":0.039},{"T":0.18,"h":0.25,"v":0.045},{"T":0.18,"h":0.3,"v":0.051},{"T":0.18,"h":0.35,"v":0.056},{"T":0.18,"h":0.4,"v":0.062},{"T":0.18,"h":0.45,"v":0.068},{"T":0.18,"h":0.5,"v":0.085},
{"T":0.21,"h":0.05,"v":0.018},{"T":0.21,"h":0.1,"v":0.025},{"T":0.21,"h":0.15,"v":0.031},{"T":0.21,"h":0.2,"v":0.037},{"T":0.21,"h":0.25,"v":0.043},{"T":0.21,"h":0.3,"v":0.049},{"T":0.21,"h":0.35,"v":0.054},{"T":0.21,"h":0.4,"v":0.059},{"T":0.21,"h":0.45,"v":0.066},
{"T":0.24,"h":0.05,"v":0.017},{"T":0.24,"h":0.1,"v":0.024},{"T":0.24,"h":0.15,"v":0.03},{"T":0.24,"h":0.2,"v":0.036},{"T":0.24,"h":0.25,"v":0.041},{"T":0.24,"h":0.3,"v":0.046},{"T":0.24,"h":0.35,"v":0.051},{"T":0.24,"h":0.4,"v":0.056},{"T":0.24,"h":0.45,"v":0.062},
{"T":0.27,"h":0.05,"v":0.017},{"T":0.27,"h":0.1,"v":0.023},{"T":0.27,"h":0.15,"v":0.028},{"T":0.27,"h":0.2,"v":0.034},{"T":0.27,"h":0.25,"v":0.039},{"T":0.27,"h":0.3,"v":0.043},{"T":0.27,"h":0.35,"v":0.047},{"T":0.27,"h":0.4,"v":0.052},
{"T":0.3,"h":0.05,"v":0.016},{"T":0.3,"h":0.1,"v":0.022},{"T":0.3,"h":0.15,"v":0.027},{"T":0.3,"h":0.2,"v":0.032},{"T":0.3,"h":0.25,"v":0.036},{"T":0.3,"h":0.3,"v":0.04},{"T":0.3,"h":0.35,"v":0.044},{"T":0.3,"h":0.4,"v":0.048},
{"T":0.33,"h":0.05,"v":0.015},{"T":0.33,"h":0.1,"v":0.02},{"T":0.33,"h":0.15,"v":0.025},{"T":0.33,"h":0.2,"v":0.029},{"T":0.33,"h":0.25,"v":0.033},{"T":0.33,"h":0.3,"v":0.036},{"T":0.33,"h":0.35,"v":0.039},
{"T":0.36,"h":0.05,"v":0.014},{"T":0.36,"h":0.1,"v":0.019},{"T":0.36,"h":0.15,"v":0.023},{"T":0.36,"h":0.2,"v":0.027},{"T":0.36,"h":0.25,"v":0.03},{"T":0.36,"h":0.3,"v":0.033},{"T":0.36,"h":0.35,"v":0.03},
{"T":0.39,"h":0.05,"v":0.013},{"T":0.39,"h":0.1,"v":0.017},{"T":0.39,"h":0.15,"v":0.021},{"T":0.39,"h":0.2,"v":0.024},{"T":0.39,"h":0.25,"v":0.026},{"T":0.39,"h":0.3,"v":0.023},
{"T":0.42,"h":0.05,"v":0.012},{"T":0.42,"h":0.1,"v":0.015},{"T":0.42,"h":0.15,"v":0.018},{"T":0.42,"h":0.2,"v":0.02},{"T":0.42,"h":0.25,"v":0.018},
{"T":0.45,"h":0.05,"v":0.01},{"T":0.45,"h":0.1,"v":0.012},{"T":0.45,"h":0.15,"v":0.013},{"T":0.45,"h":0.2,"v":0.011},
{"T":0.48,"h":0.05,"v":0.008},{"T":0.48,"h":0.1,"v":0.009},{"T":0.48,"h":0.15,"v":0.007},
{"T":0.51,"h":0.05,"v":0.003}]
},
"columns":2,
"spacing":{"row":68,"column":2},
"bounds":"flush",
"resolve":{"scale":{"color":"independent"},"legend":{"color":"independent"}},
"concat":[
{"width":288,"height":346,
"title":{"text":"(a)","anchor":"start","frame":"group","dx":-60,"dy":38.5,"offset":0,"baseline":"alphabetic","fontSize":22},
"layer":[
{"data":{"name":"ra"},"mark":{"type":"rect","strokeWidth":0.6},
"encoding":{
"x":{"field":"T0","type":"quantitative","scale":{"domain":[0,0.6],"nice":false,"zero":false},"axis":{"values":[0,0.02,0.04,0.06,0.08,0.1,0.12,0.14,0.16,0.18,0.2,0.22,0.24,0.26,0.28,0.3,0.32,0.34,0.36,0.38,0.4,0.42,0.44,0.46,0.48,0.5,0.52,0.54,0.56,0.58,0.6],"labelExpr":"abs(datum.value*10-round(datum.value*10))<0.001 && datum.value<0.55 ? format(datum.value,'.1f') : ''","tickSize":{"condition":{"test":"abs(datum.value*10-round(datum.value*10))<0.001","value":-6},"value":-3},"domain":false,"labelFlush":false,"labelOverlap":false,"title":"T","titleFontStyle":"italic","titleFontSize":23,"titlePadding":0}},
"x2":{"field":"T1"},
"y":{"field":"h0","type":"quantitative","scale":{"domain":[0,1.6],"nice":false,"zero":false},"axis":{"values":[0,0.1,0.2,0.3,0.4,0.5,0.6,0.7,0.8,0.9,1,1.1,1.2,1.3,1.4,1.5,1.6],"labelExpr":"abs(datum.value*2-round(datum.value*2))<0.001 && datum.value<1.55 ? format(datum.value,'.1f') : ''","tickSize":{"condition":{"test":"abs(datum.value*2-round(datum.value*2))<0.001","value":-6},"value":-3},"domain":false,"labelFlush":false,"labelOverlap":false,"title":"h (h || [100])","titleFontSize":20,"titlePadding":8}},
"y2":{"field":"h1"},
"fill":{"field":"ph","type":"nominal","scale":{"domain":["0","8","16","24","1Q","2Q"],"range":["#d9b991","#cc9e78","#b68a65","#a9714a","#73a2c4","#5a8a4b"]},"legend":null},
"stroke":{"field":"ph","type":"nominal","scale":{"domain":["0","8","16","24","1Q","2Q"],"range":["#d9b991","#cc9e78","#b68a65","#a9714a","#73a2c4","#5a8a4b"]},"legend":null}}},
{"data":{"name":"ta"},"transform":[{"filter":"datum.k!='ph'"}],"mark":{"type":"text","align":"center","baseline":"middle"},
"encoding":{"x":{"field":"T","type":"quantitative","scale":{"domain":[0,0.6],"nice":false,"zero":false},"axis":{"orient":"top","values":[0,0.02,0.04,0.06,0.08,0.1,0.12,0.14,0.16,0.18,0.2,0.22,0.24,0.26,0.28,0.3,0.32,0.34,0.36,0.38,0.4,0.42,0.44,0.46,0.48,0.5,0.52,0.54,0.56,0.58,0.6],"labels":false,"tickSize":{"condition":{"test":"abs(datum.value*10-round(datum.value*10))<0.001","value":-6},"value":-3},"domain":false,"title":null}},
"y":{"field":"h","type":"quantitative","scale":{"domain":[0,1.6],"nice":false,"zero":false},"axis":{"orient":"right","values":[0,0.1,0.2,0.3,0.4,0.5,0.6,0.7,0.8,0.9,1,1.1,1.2,1.3,1.4,1.5,1.6],"labels":false,"tickSize":{"condition":{"test":"abs(datum.value*2-round(datum.value*2))<0.001","value":-6},"value":-3},"domain":false,"title":null}},
"text":{"field":"lab"},
"size":{"condition":{"test":"datum.k=='pm'","value":23},"value":17},
"color":{"value":"#111111"}}},
{"data":{"name":"ta"},"transform":[{"filter":"datum.k=='ph'"}],"mark":{"type":"text","align":"center","baseline":"middle","fontStyle":"italic","fontSize":24,"color":"#111"},
"encoding":{"x":{"field":"T","type":"quantitative","scale":{"domain":[0,0.6],"nice":false,"zero":false},"axis":null},"y":{"field":"h","type":"quantitative","scale":{"domain":[0,1.6],"nice":false,"zero":false},"axis":null},"text":{"field":"lab"}}}
],
"resolve":{"axis":{"x":"independent","y":"independent"}}},
{"width":288,"height":346,
"layer":[
{"data":{"name":"ha"},"mark":{"type":"rect","width":14.7,"height":11.1,"clip":true},
"encoding":{
"x":{"field":"T","type":"quantitative","scale":{"domain":[0,0.6],"nice":false,"zero":false},"axis":{"values":[0,0.02,0.04,0.06,0.08,0.1,0.12,0.14,0.16,0.18,0.2,0.22,0.24,0.26,0.28,0.3,0.32,0.34,0.36,0.38,0.4,0.42,0.44,0.46,0.48,0.5,0.52,0.54,0.56,0.58,0.6],"labelExpr":"abs(datum.value*10-round(datum.value*10))<0.001 && datum.value>0.05 ? format(datum.value,'.1f') : ''","tickSize":{"condition":{"test":"abs(datum.value*10-round(datum.value*10))<0.001","value":-6},"value":-3},"domain":false,"labelFlush":false,"labelOverlap":false,"title":"T","titleFontStyle":"italic","titleFontSize":23,"titlePadding":0}},
"y":{"field":"h","type":"quantitative","scale":{"domain":[0,1.6],"nice":false,"zero":false},"axis":{"values":[0,0.1,0.2,0.3,0.4,0.5,0.6,0.7,0.8,0.9,1,1.1,1.2,1.3,1.4,1.5,1.6],"labels":false,"tickSize":{"condition":{"test":"abs(datum.value*2-round(datum.value*2))<0.001","value":-6},"value":-3},"domain":true,"domainColor":"#7a7a7a","domainWidth":2.5,"title":null,"zindex":1}},
"color":{"field":"v","type":"quantitative","scale":{"type":"linear","domain":[0,0.01,0.02,0.035,0.05,0.075,0.1,0.15,0.2,0.27],"range":["#c4e4fa","#8cc8f5","#5aaaf0","#4a88e6","#4664dc","#4646cc","#4632be","#46199b","#370f78","#1e0640"],"interpolate":"rgb"},
"legend":{"orient":"none","legendX":229,"legendY":15,"direction":"vertical","title":"χsc","titleFontSize":20,"titleFontWeight":"normal","titlePadding":2,"gradientLength":170,"gradientThickness":7,"gradientStrokeWidth":0,"values":[0,0.05,0.1,0.15,0.2,0.25],"labelExpr":"datum.value==0 ? '0' : format(datum.value,'.2f')","labelFontSize":14.5,"labelOffset":2}}}},
{"data":{"name":"la"},"mark":{"type":"line","interpolate":"step-after","strokeDash":[1.6,1.6],"strokeWidth":1.6,"color":"#777777"},
"encoding":{"x":{"field":"T","type":"quantitative","scale":{"domain":[0,0.6],"nice":false,"zero":false},"axis":{"orient":"top","values":[0,0.02,0.04,0.06,0.08,0.1,0.12,0.14,0.16,0.18,0.2,0.22,0.24,0.26,0.28,0.3,0.32,0.34,0.36,0.38,0.4,0.42,0.44,0.46,0.48,0.5,0.52,0.54,0.56,0.58,0.6],"labels":false,"tickSize":{"condition":{"test":"abs(datum.value*10-round(datum.value*10))<0.001","value":-6},"value":-3},"domain":false,"title":null}},
"y":{"field":"h","type":"quantitative","scale":{"domain":[0,1.6],"nice":false,"zero":false},"axis":{"orient":"right","values":[0,0.1,0.2,0.3,0.4,0.5,0.6,0.7,0.8,0.9,1,1.1,1.2,1.3,1.4,1.5,1.6],"labels":false,"tickSize":{"condition":{"test":"abs(datum.value*2-round(datum.value*2))<0.001","value":-6},"value":-3},"domain":false,"title":null}},
"detail":{"field":"s"}}}
],
"resolve":{"axis":{"x":"independent","y":"independent"}}},
{"width":288,"height":346,
"title":{"text":"(b)","anchor":"start","frame":"group","dx":-57,"dy":31.5,"offset":0,"baseline":"alphabetic","fontSize":22},
"layer":[
{"data":{"name":"rb"},"mark":{"type":"rect","strokeWidth":0.6},
"encoding":{
"x":{"field":"T0","type":"quantitative","scale":{"domain":[0,0.6],"nice":false,"zero":false},"axis":{"values":[0,0.02,0.04,0.06,0.08,0.1,0.12,0.14,0.16,0.18,0.2,0.22,0.24,0.26,0.28,0.3,0.32,0.34,0.36,0.38,0.4,0.42,0.44,0.46,0.48,0.5,0.52,0.54,0.56,0.58,0.6],"labelExpr":"abs(datum.value*10-round(datum.value*10))<0.001 && datum.value<0.55 ? format(datum.value,'.1f') : ''","tickSize":{"condition":{"test":"abs(datum.value*10-round(datum.value*10))<0.001","value":-6},"value":-3},"domain":false,"labelFlush":false,"labelOverlap":false,"title":"T","titleFontStyle":"italic","titleFontSize":23,"titlePadding":0}},
"x2":{"field":"T1"},
"y":{"field":"h0","type":"quantitative","scale":{"domain":[0,1.6],"nice":false,"zero":false},"axis":{"values":[0,0.1,0.2,0.3,0.4,0.5,0.6,0.7,0.8,0.9,1,1.1,1.2,1.3,1.4,1.5,1.6],"labelExpr":"abs(datum.value*2-round(datum.value*2))<0.001 && datum.value<1.55 ? format(datum.value,'.1f') : ''","tickSize":{"condition":{"test":"abs(datum.value*2-round(datum.value*2))<0.001","value":-6},"value":-3},"domain":false,"labelFlush":false,"labelOverlap":false,"title":"h (h || [110])","titleFontSize":20,"titlePadding":8}},
"y2":{"field":"h1"},
"fill":{"field":"ph","type":"nominal","scale":{"domain":["0","8","16","24","1Q","2Q"],"range":["#d9b991","#cc9e78","#b68a65","#a9714a","#73a2c4","#5a8a4b"]},"legend":null},
"stroke":{"field":"ph","type":"nominal","scale":{"domain":["0","8","16","24","1Q","2Q"],"range":["#d9b991","#cc9e78","#b68a65","#a9714a","#73a2c4","#5a8a4b"]},"legend":null}}},
{"data":{"name":"pk"},"mark":{"type":"rule","color":"#ff3d8f","strokeWidth":2.2,"strokeDash":[2,2.5]},
"encoding":{"x":{"field":"T","type":"quantitative","scale":{"domain":[0,0.6],"nice":false,"zero":false},"axis":null},"y":{"field":"h0","type":"quantitative","scale":{"domain":[0,1.6],"nice":false,"zero":false},"axis":null},"y2":{"field":"h1"}}},
{"data":{"name":"tb"},"transform":[{"filter":"datum.k!='ph'"}],"mark":{"type":"text","align":"center","baseline":"middle"},
"encoding":{"x":{"field":"T","type":"quantitative","scale":{"domain":[0,0.6],"nice":false,"zero":false},"axis":{"orient":"top","values":[0,0.02,0.04,0.06,0.08,0.1,0.12,0.14,0.16,0.18,0.2,0.22,0.24,0.26,0.28,0.3,0.32,0.34,0.36,0.38,0.4,0.42,0.44,0.46,0.48,0.5,0.52,0.54,0.56,0.58,0.6],"labels":false,"tickSize":{"condition":{"test":"abs(datum.value*10-round(datum.value*10))<0.001","value":-6},"value":-3},"domain":false,"title":null}},
"y":{"field":"h","type":"quantitative","scale":{"domain":[0,1.6],"nice":false,"zero":false},"axis":{"orient":"right","values":[0,0.1,0.2,0.3,0.4,0.5,0.6,0.7,0.8,0.9,1,1.1,1.2,1.3,1.4,1.5,1.6],"labels":false,"tickSize":{"condition":{"test":"abs(datum.value*2-round(datum.value*2))<0.001","value":-6},"value":-3},"domain":false,"title":null}},
"text":{"field":"lab"},
"size":{"condition":{"test":"datum.k=='pm'","value":23},"value":17},
"color":{"condition":{"test":"datum.lab=='(24)'","value":"#ffffff"},"value":"#111111"}}},
{"data":{"name":"tb"},"transform":[{"filter":"datum.k=='ph'"}],"mark":{"type":"text","align":"center","baseline":"middle","fontStyle":"italic","fontSize":24,"color":"#111"},
"encoding":{"x":{"field":"T","type":"quantitative","scale":{"domain":[0,0.6],"nice":false,"zero":false},"axis":null},"y":{"field":"h","type":"quantitative","scale":{"domain":[0,1.6],"nice":false,"zero":false},"axis":null},"text":{"field":"lab"}}}
],
"resolve":{"axis":{"x":"independent","y":"independent"}}},
{"width":288,"height":346,
"layer":[
{"data":{"name":"hb"},"mark":{"type":"rect","width":14.7,"height":11.1,"clip":true},
"encoding":{
"x":{"field":"T","type":"quantitative","scale":{"domain":[0,0.6],"nice":false,"zero":false},"axis":{"values":[0,0.02,0.04,0.06,0.08,0.1,0.12,0.14,0.16,0.18,0.2,0.22,0.24,0.26,0.28,0.3,0.32,0.34,0.36,0.38,0.4,0.42,0.44,0.46,0.48,0.5,0.52,0.54,0.56,0.58,0.6],"labelExpr":"abs(datum.value*10-round(datum.value*10))<0.001 && datum.value>0.05 ? format(datum.value,'.1f') : ''","tickSize":{"condition":{"test":"abs(datum.value*10-round(datum.value*10))<0.001","value":-6},"value":-3},"domain":false,"labelFlush":false,"labelOverlap":false,"title":"T","titleFontStyle":"italic","titleFontSize":23,"titlePadding":0}},
"y":{"field":"h","type":"quantitative","scale":{"domain":[0,1.6],"nice":false,"zero":false},"axis":{"values":[0,0.1,0.2,0.3,0.4,0.5,0.6,0.7,0.8,0.9,1,1.1,1.2,1.3,1.4,1.5,1.6],"labels":false,"tickSize":{"condition":{"test":"abs(datum.value*2-round(datum.value*2))<0.001","value":-6},"value":-3},"domain":true,"domainColor":"#7a7a7a","domainWidth":2.5,"title":null,"zindex":1}},
"color":{"field":"v","type":"quantitative","scale":{"type":"linear","domain":[0,0.01,0.02,0.035,0.05,0.075,0.1,0.15,0.2,0.27],"range":["#c4e4fa","#8cc8f5","#5aaaf0","#4a88e6","#4664dc","#4646cc","#4632be","#46199b","#370f78","#1e0640"],"interpolate":"rgb"},"legend":null}}},
{"data":{"name":"lb"},"mark":{"type":"line","interpolate":"step-after","strokeDash":[1.6,1.6],"strokeWidth":1.6,"color":"#777777"},
"encoding":{"x":{"field":"T","type":"quantitative","scale":{"domain":[0,0.6],"nice":false,"zero":false},"axis":{"orient":"top","values":[0,0.02,0.04,0.06,0.08,0.1,0.12,0.14,0.16,0.18,0.2,0.22,0.24,0.26,0.28,0.3,0.32,0.34,0.36,0.38,0.4,0.42,0.44,0.46,0.48,0.5,0.52,0.54,0.56,0.58,0.6],"labels":false,"tickSize":{"condition":{"test":"abs(datum.value*10-round(datum.value*10))<0.001","value":-6},"value":-3},"domain":false,"title":null}},
"y":{"field":"h","type":"quantitative","scale":{"domain":[0,1.6],"nice":false,"zero":false},"axis":{"orient":"right","values":[0,0.1,0.2,0.3,0.4,0.5,0.6,0.7,0.8,0.9,1,1.1,1.2,1.3,1.4,1.5,1.6],"labels":false,"tickSize":{"condition":{"test":"abs(datum.value*2-round(datum.value*2))<0.001","value":-6},"value":-3},"domain":false,"title":null}},
"detail":{"field":"s"}}}
],
"resolve":{"axis":{"x":"independent","y":"independent"}}},
{"width":288,"height":346,
"title":{"text":"(c)","anchor":"start","frame":"group","dx":-54,"dy":32,"offset":0,"baseline":"alphabetic","fontSize":22},
"layer":[
{"data":{"name":"rc"},"mark":{"type":"rect","strokeWidth":0.6},
"encoding":{
"x":{"field":"T0","type":"quantitative","scale":{"domain":[0,0.6],"nice":false,"zero":false},"axis":{"values":[0,0.02,0.04,0.06,0.08,0.1,0.12,0.14,0.16,0.18,0.2,0.22,0.24,0.26,0.28,0.3,0.32,0.34,0.36,0.38,0.4,0.42,0.44,0.46,0.48,0.5,0.52,0.54,0.56,0.58,0.6],"labelExpr":"abs(datum.value*10-round(datum.value*10))<0.001 && datum.value<0.55 ? format(datum.value,'.1f') : ''","tickSize":{"condition":{"test":"abs(datum.value*10-round(datum.value*10))<0.001","value":-6},"value":-3},"domain":false,"labelFlush":false,"labelOverlap":false,"title":"T","titleFontStyle":"italic","titleFontSize":23,"titlePadding":0}},
"x2":{"field":"T1"},
"y":{"field":"h0","type":"quantitative","scale":{"domain":[0,1.6],"nice":false,"zero":false},"axis":{"values":[0,0.1,0.2,0.3,0.4,0.5,0.6,0.7,0.8,0.9,1,1.1,1.2,1.3,1.4,1.5,1.6],"labelExpr":"abs(datum.value*2-round(datum.value*2))<0.001 && datum.value<1.55 ? format(datum.value,'.1f') : ''","tickSize":{"condition":{"test":"abs(datum.value*2-round(datum.value*2))<0.001","value":-6},"value":-3},"domain":false,"labelFlush":false,"labelOverlap":false,"title":"h (h || [111])","titleFontSize":20,"titlePadding":8}},
"y2":{"field":"h1"},
"fill":{"field":"ph","type":"nominal","scale":{"domain":["0","8","16","24","1Q","2Q"],"range":["#d9b991","#cc9e78","#b68a65","#a9714a","#73a2c4","#5a8a4b"]},"legend":null},
"stroke":{"field":"ph","type":"nominal","scale":{"domain":["0","8","16","24","1Q","2Q"],"range":["#d9b991","#cc9e78","#b68a65","#a9714a","#73a2c4","#5a8a4b"]},"legend":null}}},
{"data":{"name":"tc"},"transform":[{"filter":"datum.k!='ph'"}],"mark":{"type":"text","align":"center","baseline":"middle"},
"encoding":{"x":{"field":"T","type":"quantitative","scale":{"domain":[0,0.6],"nice":false,"zero":false},"axis":{"orient":"top","values":[0,0.02,0.04,0.06,0.08,0.1,0.12,0.14,0.16,0.18,0.2,0.22,0.24,0.26,0.28,0.3,0.32,0.34,0.36,0.38,0.4,0.42,0.44,0.46,0.48,0.5,0.52,0.54,0.56,0.58,0.6],"labels":false,"tickSize":{"condition":{"test":"abs(datum.value*10-round(datum.value*10))<0.001","value":-6},"value":-3},"domain":false,"title":null}},
"y":{"field":"h","type":"quantitative","scale":{"domain":[0,1.6],"nice":false,"zero":false},"axis":{"orient":"right","values":[0,0.1,0.2,0.3,0.4,0.5,0.6,0.7,0.8,0.9,1,1.1,1.2,1.3,1.4,1.5,1.6],"labels":false,"tickSize":{"condition":{"test":"abs(datum.value*2-round(datum.value*2))<0.001","value":-6},"value":-3},"domain":false,"title":null}},
"text":{"field":"lab"},
"size":{"condition":{"test":"datum.k=='pm'","value":23},"value":17},
"color":{"value":"#111111"}}},
{"data":{"name":"tc"},"transform":[{"filter":"datum.k=='ph'"}],"mark":{"type":"text","align":"center","baseline":"middle","fontStyle":"italic","fontSize":24,"color":"#111"},
"encoding":{"x":{"field":"T","type":"quantitative","scale":{"domain":[0,0.6],"nice":false,"zero":false},"axis":null},"y":{"field":"h","type":"quantitative","scale":{"domain":[0,1.6],"nice":false,"zero":false},"axis":null},"text":{"field":"lab"}}}
],
"resolve":{"axis":{"x":"independent","y":"independent"}}},
{"width":288,"height":346,
"layer":[
{"data":{"name":"hc"},"mark":{"type":"rect","width":14.7,"height":11.1,"clip":true},
"encoding":{
"x":{"field":"T","type":"quantitative","scale":{"domain":[0,0.6],"nice":false,"zero":false},"axis":{"values":[0,0.02,0.04,0.06,0.08,0.1,0.12,0.14,0.16,0.18,0.2,0.22,0.24,0.26,0.28,0.3,0.32,0.34,0.36,0.38,0.4,0.42,0.44,0.46,0.48,0.5,0.52,0.54,0.56,0.58,0.6],"labelExpr":"abs(datum.value*10-round(datum.value*10))<0.001 && datum.value>0.05 ? format(datum.value,'.1f') : ''","tickSize":{"condition":{"test":"abs(datum.value*10-round(datum.value*10))<0.001","value":-6},"value":-3},"domain":false,"labelFlush":false,"labelOverlap":false,"title":"T","titleFontStyle":"italic","titleFontSize":23,"titlePadding":0}},
"y":{"field":"h","type":"quantitative","scale":{"domain":[0,1.6],"nice":false,"zero":false},"axis":{"values":[0,0.1,0.2,0.3,0.4,0.5,0.6,0.7,0.8,0.9,1,1.1,1.2,1.3,1.4,1.5,1.6],"labels":false,"tickSize":{"condition":{"test":"abs(datum.value*2-round(datum.value*2))<0.001","value":-6},"value":-3},"domain":true,"domainColor":"#7a7a7a","domainWidth":2.5,"title":null,"zindex":1}},
"color":{"field":"v","type":"quantitative","scale":{"type":"linear","domain":[0,0.01,0.02,0.035,0.05,0.075,0.1,0.15,0.2,0.27],"range":["#c4e4fa","#8cc8f5","#5aaaf0","#4a88e6","#4664dc","#4646cc","#4632be","#46199b","#370f78","#1e0640"],"interpolate":"rgb"},"legend":null}}},
{"data":{"name":"lc"},"mark":{"type":"line","interpolate":"step-after","strokeDash":[1.6,1.6],"strokeWidth":1.6,"color":"#777777"},
"encoding":{"x":{"field":"T","type":"quantitative","scale":{"domain":[0,0.6],"nice":false,"zero":false},"axis":{"orient":"top","values":[0,0.02,0.04,0.06,0.08,0.1,0.12,0.14,0.16,0.18,0.2,0.22,0.24,0.26,0.28,0.3,0.32,0.34,0.36,0.38,0.4,0.42,0.44,0.46,0.48,0.5,0.52,0.54,0.56,0.58,0.6],"labels":false,"tickSize":{"condition":{"test":"abs(datum.value*10-round(datum.value*10))<0.001","value":-6},"value":-3},"domain":false,"title":null}},
"y":{"field":"h","type":"quantitative","scale":{"domain":[0,1.6],"nice":false,"zero":false},"axis":{"orient":"right","values":[0,0.1,0.2,0.3,0.4,0.5,0.6,0.7,0.8,0.9,1,1.1,1.2,1.3,1.4,1.5,1.6],"labels":false,"tickSize":{"condition":{"test":"abs(datum.value*2-round(datum.value*2))<0.001","value":-6},"value":-3},"domain":false,"title":null}},
"detail":{"field":"s"}}}
],
"resolve":{"axis":{"x":"independent","y":"independent"}}}
]
}
